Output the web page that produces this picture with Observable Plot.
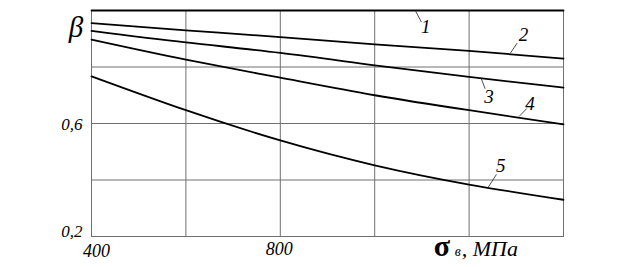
<!DOCTYPE html>
<html><head><meta charset="utf-8">
<script src="https://cdn.jsdelivr.net/npm/d3@7"></script>
<script src="https://cdn.jsdelivr.net/npm/@observablehq/plot@0.6"></script>
<style>body{margin:0;background:#fff} #chart{width:623px;height:267px}</style>
</head><body><div id="chart"></div>
<script>
const sigma = [400, 600, 800, 1000, 1200, 1400];
const beta1 = [1.0, 1.0, 1.0, 1.0, 1.0, 1.0];
const beta2 = [0.955, 0.930, 0.906, 0.880, 0.857, 0.830];
const beta3 = [0.928, 0.887, 0.850, 0.806, 0.765, 0.727];
const beta4 = [0.897, 0.826, 0.762, 0.700, 0.647, 0.597];
const beta5 = [0.767, 0.647, 0.540, 0.452, 0.384, 0.330];
const curveNames = ["1", "2", "3", "4", "5"];
const labelX = [1108, 1315, 1242, 1329, 1267];
const labelY = [0.942, 0.912, 0.694, 0.668, 0.449];
const leadX1 = [1086, 1287, 1225, 1306, 1240];
const leadY1 = [1.0, 0.848, 0.762, 0.625, 0.373];
const leadX2 = [1099, 1302, 1234, 1322, 1258];
const leadY2 = [0.959, 0.885, 0.723, 0.653, 0.420];
const xGrid = [400, 600, 800, 1000, 1200, 1400];
const yGrid = [0.2, 0.4, 0.6, 0.8, 1.0];
const xTickLabels = [400, 800];
const yTickLabels = [0.2, 0.6];
const yName = "β";
const xNameParts = ["σ", "в", ", МПа"];

const series = [beta1, beta2, beta3, beta4, beta5];
const rows = series.flatMap((s, i) => s.map((b, j) => ({curve: curveNames[i], x: sigma[j], y: b})));
const labels = curveNames.map((n, i) => ({n, x: labelX[i], y: labelY[i]}));
const leaders = curveNames.map((n, i) => ({x1: leadX1[i], y1: leadY1[i], x2: leadX2[i], y2: leadY2[i]}));
const fmt = d => d.toFixed(1).replace(".", ",");
const serif = "'Liberation Serif', 'Times New Roman', serif";
const gridColor = "#707070";
const T = {fontFamily: serif, fontStyle: "italic", fill: "#000"};

const chart = Plot.plot({
  width: 623, height: 267,
  marginLeft: 91, marginRight: 60, marginTop: 10, marginBottom: 31,
  x: {domain: [400, 1400], axis: null},
  y: {domain: [0.2, 1.0], axis: null},
  style: {fontFamily: serif, background: "white"},
  marks: [
    Plot.gridX(xGrid, {stroke: gridColor, strokeOpacity: 1}),
    Plot.gridY(yGrid, {stroke: gridColor, strokeOpacity: 1}),
    Plot.frame({stroke: gridColor}),
    Plot.line(rows, {x: "x", y: "y", z: "curve", stroke: "#000", strokeWidth: 1.8, curve: "natural"}),
    Plot.link(leaders, {x1: "x1", y1: "y1", x2: "x2", y2: "y2", stroke: "#222", strokeWidth: 0.8}),
    Plot.text(labels, {x: "x", y: "y", text: "n", fontSize: 19, ...T}),
    Plot.text(yTickLabels.filter(d => d === 0.6), {x: 400, y: d => d, text: fmt, textAnchor: "end", lineAnchor: "bottom", dx: -9, dy: 6, fontSize: 17, ...T}),
    Plot.text(yTickLabels.filter(d => d === 0.2), {x: 400, y: d => d, text: fmt, textAnchor: "end", lineAnchor: "bottom", dx: -9, dy: 0, fontSize: 17, ...T}),
    Plot.text(xTickLabels.filter(d => d === 400), {x: d => d, y: 0.2, text: d => String(d), lineAnchor: "bottom", dy: 20, dx: 5, fontSize: 18, ...T}),
    Plot.text(xTickLabels.filter(d => d === 800), {x: d => d, y: 0.2, text: d => String(d), lineAnchor: "bottom", dy: 18, dx: -1, fontSize: 18, ...T}),
    Plot.text([yName], {x: 400, y: 0.905, text: d => d, lineAnchor: "bottom", dx: -15.5, fontSize: 29, ...T}),
    Plot.text([xNameParts[0]], {x: 1125, y: 0.2, text: d => d, dx: 0, dy: 19, lineAnchor: "bottom", textAnchor: "start", fontSize: 30, fontWeight: "bold", fontFamily: serif, fill: "#000"}),
    Plot.text([xNameParts[1]], {x: 1125, y: 0.2, text: d => d, dx: 21, dy: 19, lineAnchor: "bottom", textAnchor: "start", fontSize: 14, ...T}),
    Plot.text([xNameParts[2]], {x: 1125, y: 0.2, text: d => d, dx: 28, dy: 19, lineAnchor: "bottom", textAnchor: "start", fontSize: 22, ...T})
  ]
});
d3.select(chart).selectAll("text").style("font-family", serif);
document.getElementById("chart").appendChild(chart);
</script>
</body></html>
